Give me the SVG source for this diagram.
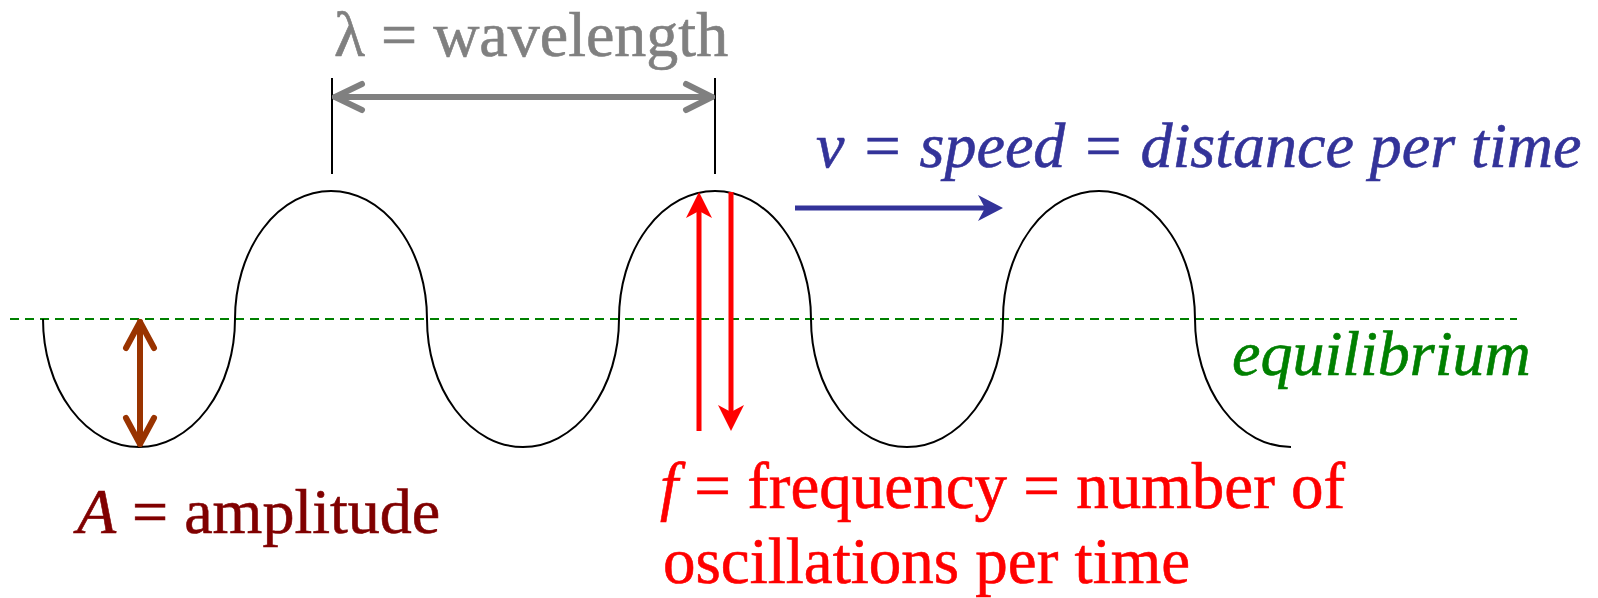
<svg xmlns="http://www.w3.org/2000/svg" width="1598" height="598" viewBox="0 0 1598 598">
  <style>
    text { font-family: "Liberation Serif", "Times New Roman", serif; font-size: 64px; stroke-width: 0.6; }
    .it { font-style: italic; }
    .big { font-size: 65px; }
    .arrow { fill: none; stroke-width: 6; stroke-linecap: round; stroke-linejoin: round; }
  </style>
  <rect width="1598" height="598" fill="#ffffff"/>

  <g id="equilibrium-line">
    <line x1="10" y1="319" x2="1517" y2="319" stroke="#008000" stroke-width="2" stroke-dasharray="9 6"/>
  </g>

  <g id="wave">
    <path d="M 43 319 A 96 128 0 0 0 235 319 A 96 128 0 0 1 427 319 A 96 128 0 0 0 619 319 A 96 128 0 0 1 811 319 A 96 128 0 0 0 1003 319 A 96 128 0 0 1 1195 319 A 96 128 0 0 0 1291 447" fill="none" stroke="#000000" stroke-width="2"/>
  </g>

  <g id="connectors">
    <g id="wavelength-marker">
      <line x1="332" y1="78" x2="332" y2="174" stroke="#000000" stroke-width="2"/>
      <line x1="715" y1="78" x2="715" y2="174" stroke="#000000" stroke-width="2"/>
      <line x1="335" y1="97" x2="712" y2="97" class="arrow" stroke="#808080"/>
      <polyline points="362,84 335,97 362,110" class="arrow" stroke="#808080"/>
      <polyline points="686,84 712,97 686,110" class="arrow" stroke="#808080"/>
    </g>
    <g id="amplitude-arrow">
      <line x1="140" y1="322" x2="140" y2="444" class="arrow" stroke="#993300"/>
      <polyline points="126,348 140,322 154,348" class="arrow" stroke="#993300"/>
      <polyline points="126,418 140,444 154,418" class="arrow" stroke="#993300"/>
    </g>
    <g id="frequency-arrows">
      <line x1="699" y1="431" x2="699" y2="208" stroke="#ff0000" stroke-width="5"/>
      <polygon points="699,192 686,218 699,211 712,218" fill="#ff0000"/>
      <line x1="731" y1="192" x2="731" y2="414" stroke="#ff0000" stroke-width="5"/>
      <polygon points="731,431 718,405 731,412 744,405" fill="#ff0000"/>
    </g>
    <g id="speed-arrow">
      <line x1="795" y1="208" x2="988" y2="208" stroke="#333399" stroke-width="5"/>
      <polygon points="1003,208 978,195 985,208 978,221" fill="#333399"/>
    </g>
  </g>

  <g id="label-wavelength">
    <text x="334" y="56" fill="#808080" stroke="#808080">λ = wavelength</text>
  </g>
  <g id="label-speed">
    <text x="816" y="167" class="it" fill="#333399" stroke="#333399">v = speed = distance per time</text>
  </g>
  <g id="label-equilibrium">
    <text x="1232" y="375" class="it" fill="#008000" stroke="#008000">equilibrium</text>
  </g>
  <g id="label-amplitude">
    <text x="77" y="533" fill="#800000" stroke="#800000"><tspan class="it">A</tspan> = amplitude</text>
  </g>
  <g id="label-frequency">
    <text x="660" y="508" class="big" fill="#ff0000" stroke="#ff0000"><tspan class="it">f</tspan> = frequency = number of</text>
    <text x="663" y="583" class="big" fill="#ff0000" stroke="#ff0000">oscillations per time</text>
  </g>
</svg>
